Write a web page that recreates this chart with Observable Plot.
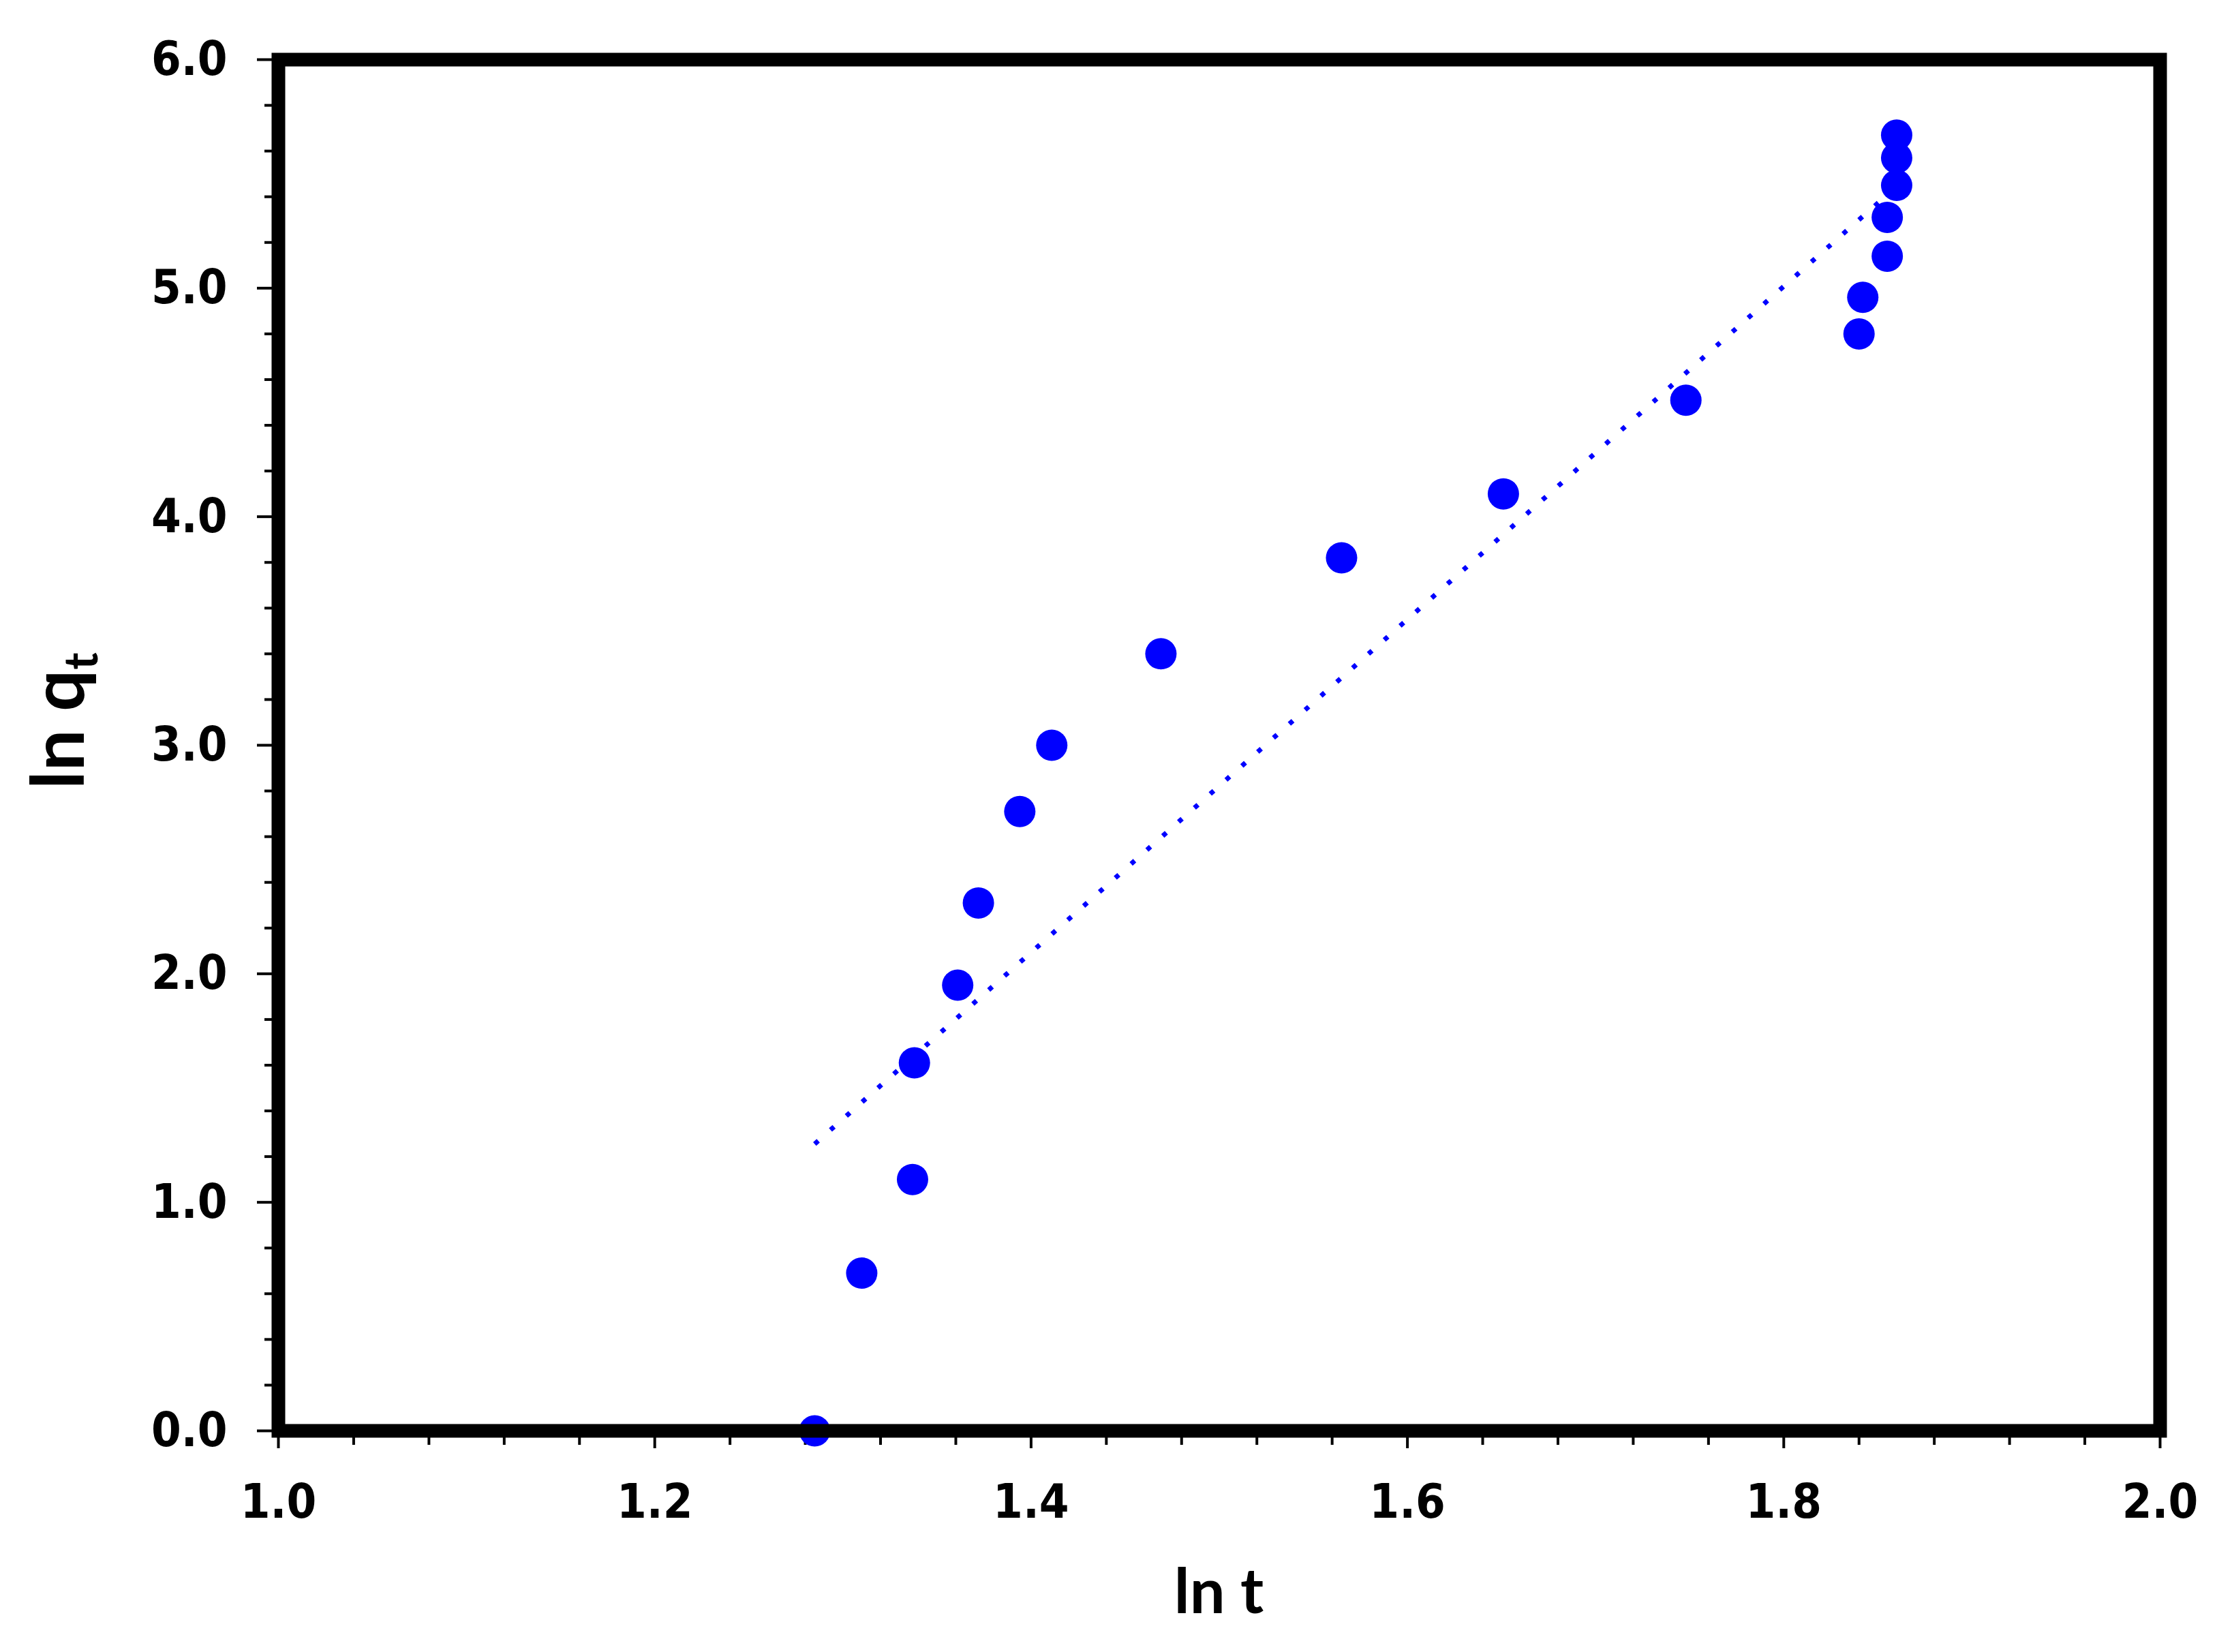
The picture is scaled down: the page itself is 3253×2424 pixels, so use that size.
<!DOCTYPE html>
<html>
<head>
<meta charset="utf-8">
<script src="https://cdn.jsdelivr.net/npm/d3@7"></script>
<script src="https://cdn.jsdelivr.net/npm/@observablehq/plot@0.6"></script>
<style>
  html, body { margin: 0; padding: 0; background: #fff; }
</style>
</head>
<body>
<div id="chart"></div>
<script>
// ln t values (x)
const lnT = [1.285, 1.310, 1.337, 1.338, 1.361, 1.372, 1.394, 1.411, 1.469, 1.565, 1.651, 1.748, 1.840, 1.842, 1.855, 1.855, 1.860, 1.860, 1.860];
// ln q_t values (y)
const lnQ = [0.00, 0.69, 1.10, 1.61, 1.95, 2.31, 2.71, 3.00, 3.40, 3.82, 4.10, 4.51, 4.80, 4.96, 5.14, 5.31, 5.45, 5.57, 5.67];

const xMajor = [1.0, 1.2, 1.4, 1.6, 1.8, 2.0];
const xMinor = [1.04, 1.08, 1.12, 1.16, 1.24, 1.28, 1.32, 1.36, 1.44, 1.48, 1.52, 1.56,
                1.64, 1.68, 1.72, 1.76, 1.84, 1.88, 1.92, 1.96];
const yMajor = [0, 1, 2, 3, 4, 5, 6];
const yMinor = [0.2, 0.4, 0.6, 0.8, 1.2, 1.4, 1.6, 1.8, 2.2, 2.4, 2.6, 2.8, 3.2, 3.4, 3.6, 3.8,
                4.2, 4.4, 4.6, 4.8, 5.2, 5.4, 5.6, 5.8];

const xTitle = "ln t";
const yTitleMain = "ln q";
const yTitleSub = "t";

const data = lnT.map((x, i) => ({x, y: lnQ[i]}));

const W = 3253, H = 2424;
const mL = 408, mR = 84, mT = 87, mB = 325;
const tickFont = "'DejaVu Sans Condensed', 'DejaVu Sans', sans-serif";
const titleFont = "Lato, 'Open Sans', sans-serif";

const chart = Plot.plot({
  width: W, height: H,
  marginLeft: mL, marginRight: mR, marginTop: mT, marginBottom: mB,
  x: {domain: [1, 2]},
  y: {domain: [0, 6]},
  style: {background: "#fff", color: "#000", fontFamily: tickFont, fontWeight: "bold", fontSize: "70px"},
  marks: [
    Plot.axisX(xMinor, {anchor: "bottom", tickSize: 21, strokeWidth: 4, tickFormat: () => "", label: null}),
    Plot.axisX(xMajor, {anchor: "bottom", tickSize: 26, tickPadding: 52, strokeWidth: 4,
      tickFormat: d => d.toFixed(1), label: null, fontSize: 70, fontWeight: "bold", fontFamily: tickFont}),
    Plot.axisY(yMinor, {anchor: "left", tickSize: 20, strokeWidth: 4, tickFormat: () => "", label: null}),
    Plot.axisY(yMajor, {anchor: "left", tickSize: 31, tickPadding: 44, strokeWidth: 4,
      tickFormat: d => d.toFixed(1), label: null, fontSize: 70, fontWeight: "bold", fontFamily: tickFont}),
    Plot.dot(data, {x: "x", y: "y", r: 23, fill: "#0000ff", stroke: "none"}),
    Plot.linearRegressionY(data, {x: "x", y: "y", ci: 0, stroke: "#0000ff", strokeWidth: 7,
      strokeDasharray: "7,24", strokeLinecap: "butt"}),
    Plot.frame({stroke: "#000", strokeWidth: 20})
  ]
});

document.getElementById("chart").appendChild(chart);

const svg = d3.select(chart);
// x-axis title
svg.append("text")
  .attr("x", (mL + (W - mR)) / 2)
  .attr("y", 2367)
  .attr("text-anchor", "middle")
  .attr("font-family", titleFont)
  .attr("font-weight", "bold")
  .attr("font-size", 92)
  .attr("fill", "#000")
  .text(xTitle);

// y-axis title with subscript
const yt = svg.append("text")
  .attr("transform", "translate(123,1158) rotate(-90)")
  .attr("text-anchor", "start")
  .attr("font-family", titleFont)
  .attr("font-weight", "bold")
  .attr("font-size", 108)
  .attr("fill", "#000");
yt.append("tspan").text(yTitleMain);
yt.append("tspan").attr("dy", 20).attr("font-size", 68).text(yTitleSub);
</script>
</body>
</html>
